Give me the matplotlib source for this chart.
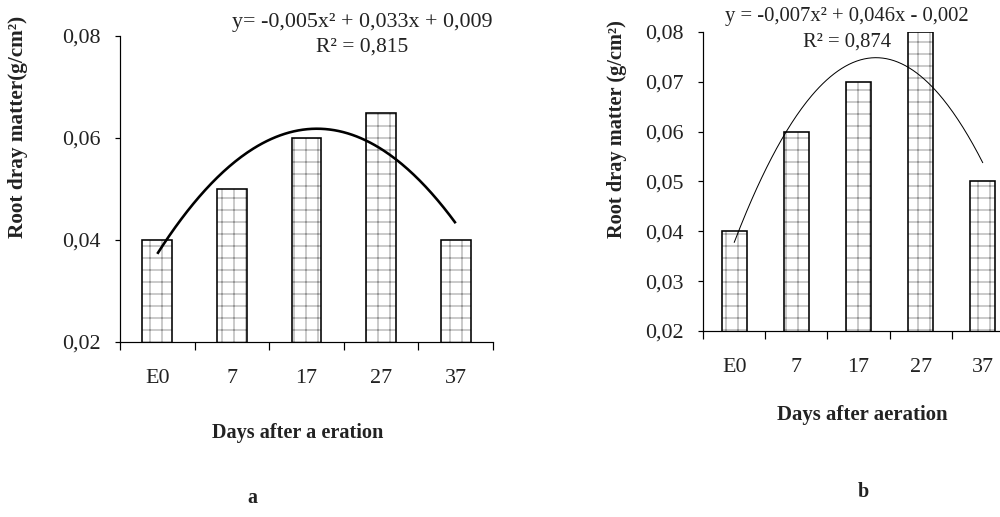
import numpy as np
import matplotlib
matplotlib.use("Agg")
import matplotlib.pyplot as plt

# ---- data ----
categories = ["E0", "7", "17", "27", "37"]
values_a = [0.040, 0.050, 0.060, 0.065, 0.040]
values_b = [0.040, 0.060, 0.070, 0.080, 0.050]
yticks_a = [0.02, 0.04, 0.06, 0.08]
yticklabels_a = ["0,02", "0,04", "0,06", "0,08"]
yticks_b = [0.02, 0.03, 0.04, 0.05, 0.06, 0.07, 0.08]
yticklabels_b = ["0,02", "0,03", "0,04", "0,05", "0,06", "0,07", "0,08"]
eq_a = "y= -0,005x² + 0,033x + 0,009"
r2_a = "R² = 0,815"
eq_b = "y = -0,007x² + 0,046x - 0,002"
r2_b = "R² = 0,874"
ylabel_a = "Root dray matter(g/cm²)"
ylabel_b = "Root dray matter (g/cm²)"
xlabel_a = "Days after a eration"
xlabel_b = "Days after aeration"

DPI = 72
plt.rcParams['font.family'] = ['Liberation Serif', 'DejaVu Serif']
plt.rcParams['hatch.linewidth'] = 0.9

fig = plt.figure(figsize=(1000 / DPI, 517 / DPI), dpi=DPI)
fig.patch.set_facecolor("white")

TXT = "#222222"


def panel(rect, values, yticks, yticklabels, curve_lw):
    ax = fig.add_axes(rect)
    x = np.arange(1, len(values) + 1)
    ax.bar(x, values, width=0.4, bottom=0, color="white", edgecolor="#8c8c8c",
           hatch="+", linewidth=0, zorder=2)
    ax.bar(x, values, width=0.4, fill=False, edgecolor="black",
           linewidth=1.6, zorder=3)
    coef = np.polyfit(x, values, 2)
    xs = np.linspace(1, len(values), 200)
    ax.plot(xs, np.polyval(coef, xs), color="black", lw=curve_lw, zorder=4,
            solid_capstyle="butt")
    ax.set_xlim(0.5, len(values) + 0.5)
    ax.set_ylim(0.02, 0.08)
    ax.set_yticks(yticks)
    ax.set_yticklabels(yticklabels, fontsize=22, color=TXT)
    ax.set_xticks(np.arange(0.5, len(values) + 1, 1.0))
    ax.set_xticklabels([])
    ax.set_xticks(x, minor=True)
    ax.set_xticklabels(categories, minor=True, fontsize=22, color=TXT)
    ax.tick_params(axis="x", which="major", direction="out", length=8, width=1.2)
    ax.tick_params(axis="x", which="minor", length=0, pad=27)
    ax.tick_params(axis="y", direction="out", length=5, width=1.2, pad=14)
    for s in ("top", "right"):
        ax.spines[s].set_visible(False)
    for s in ("left", "bottom"):
        ax.spines[s].set_linewidth(1.2)
    ax.patch.set_alpha(0)
    return ax


ax_a = panel([0.12, 1 - 342 / 517, 0.373, (342 - 36) / 517], values_a,
             yticks_a, yticklabels_a, 2.6)
ax_b = panel([0.703, 1 - 331 / 517, 0.311, (331 - 32) / 517], values_b,
             yticks_b, yticklabels_b, 1.0)

fig.text(0.362, 1 - 22 / 517, eq_a, ha="center", va="center", fontsize=22, color=TXT)
fig.text(0.362, 1 - 47 / 517, r2_a, ha="center", va="center", fontsize=21.5, color=TXT)
fig.text(0.847, 1 - 17 / 517, eq_b, ha="center", va="center", fontsize=20.6, color=TXT)
fig.text(0.847, 1 - 42 / 517, r2_b, ha="center", va="center", fontsize=20.6, color=TXT)

fig.text(0.298, 1 - 433 / 517, xlabel_a, ha="center", va="center", fontsize=20.2,
         fontweight="bold", color=TXT)
fig.text(0.862, 1 - 415 / 517, xlabel_b, ha="center", va="center", fontsize=20.7,
         fontweight="bold", color=TXT)
fig.text(0.018, 1 - 127 / 517, ylabel_a, ha="center", va="center", fontsize=21.2,
         fontweight="bold", rotation=90, color=TXT)
fig.text(0.617, 1 - 129 / 517, ylabel_b, ha="center", va="center", fontsize=20.4,
         fontweight="bold", rotation=90, color=TXT)
fig.text(0.252, 1 - 498 / 517, "a", ha="center", va="center", fontsize=20,
         fontweight="bold", color=TXT)
fig.text(0.863, 1 - 492 / 517, "b", ha="center", va="center", fontsize=20,
         fontweight="bold", color=TXT)

fig.savefig("out.png", dpi=DPI, facecolor="white")
